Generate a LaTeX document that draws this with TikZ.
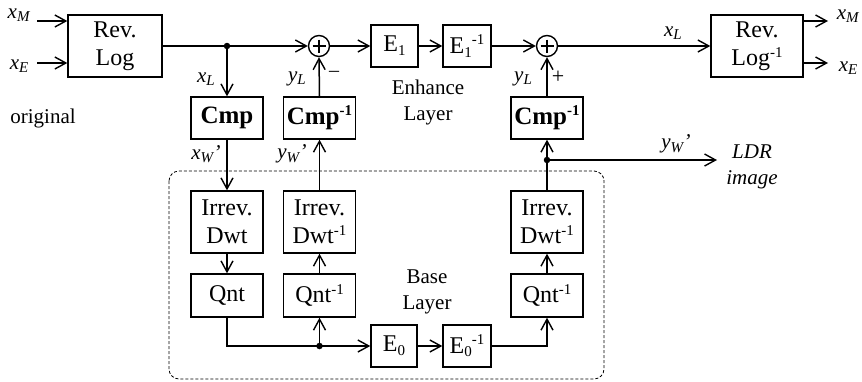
\documentclass[tikz,border=0pt]{standalone}
\usepackage{fontspec}
\setmainfont{Liberation Serif}
\usetikzlibrary{arrows.meta,calc}
\newcommand\bfsz{\fontsize{24}{28}\selectfont}
\newcommand\lfsz{\fontsize{21}{26}\selectfont}
\newcommand\lo[1]{\raisebox{-0.35ex}{\fontsize{15}{15}\selectfont #1}}
\newcommand\hi[1]{\raisebox{0.75ex}{\fontsize{15}{15}\selectfont #1}}
\newcommand\var[2]{\textit{#1}\lo{\textit{#2}}}
\newcommand\prm{\kern-0.5pt\textit{'}}
\begin{document}
\begin{tikzpicture}[x=1pt,y=-1pt,
  blk/.style={draw,line width=1.4pt,inner sep=0pt,align=center,font=\bfsz,minimum width=72pt,minimum height=42pt},
  tall/.style={blk,minimum height=62pt},
  small/.style={blk,minimum width=47pt},
  lbl/.style={inner sep=0pt,align=center,font=\lfsz},
  wire/.style={line width=1.5pt},
  arr/.style={wire,-{Straight Barb[length=11pt,width=12pt,line width=1.4pt]}},
  sumc/.style={draw,circle,line width=1.4pt,minimum size=21pt,inner sep=0pt},
  jdot/.style={circle,fill,inner sep=0pt,minimum size=6.5pt},
  frame/.style={draw,line width=0.8pt,rounded corners=10pt,dash pattern=on 3pt off 2pt}
]
\useasboundingbox (0,0) rectangle (862,381);
% base layer frame
\draw[frame] (169,171) rectangle (604,379);
% blocks
\node[tall,minimum width=94pt] (rl) at (115,46) {Rev.\\Log};
\node[tall,minimum width=92pt] (rli) at (757,46) {Rev.\\Log\hi{-1}};
\node[small] (e1) at (394.5,46) {E\lo{1}};
\node[small,minimum width=48pt] (e1i) at (467,46) {E\lo{1}\hi{-1}};
\node[sumc] (p1) at (319,46) {};
\node[sumc] (p2) at (547,46) {};
\foreach \p in {p1,p2}{
  \draw[line width=1.3pt] ($(\p)+(-6.5,0)$) -- ($(\p)+(6.5,0)$);
  \draw[line width=1.3pt] ($(\p)+(0,-6.5)$) -- ($(\p)+(0,6.5)$);
}
\node[blk] (cmp) at (227,118) {\fontsize{25}{28}\selectfont\textbf{Cmp}};
\node[blk] (cmpi) at (319.5,118) {\fontsize{25}{28}\selectfont\textbf{Cmp\hi{-1}}};
\node[blk] (cmpi2) at (547,118) {\fontsize{25}{28}\selectfont\textbf{Cmp\hi{-1}}};
\node[tall] (dwt) at (227,222) {Irrev.\\Dwt};
\node[tall] (dwti) at (319.5,222) {Irrev.\\Dwt\hi{-1}};
\node[tall] (dwti2) at (547,222) {Irrev.\\Dwt\hi{-1}};
\node[blk,minimum height=43pt] (qnt) at (227,295.5) {Qnt};
\node[blk,minimum height=43pt] (qnti) at (319.5,295.5) {Qnt\hi{-1}};
\node[blk,minimum height=43pt] (qnti2) at (547,295.5) {Qnt\hi{-1}};
\node[small,minimum width=46pt] (e0) at (394,346) {E\lo{0}};
\node[small,minimum width=48pt] (e0i) at (467,346) {E\lo{0}\hi{-1}};
% junctions and free ends
\node[jdot] (j1) at (227,46) {};
\node[jdot] (j3) at (319.5,346) {};
\node[jdot] (j4) at (547,160) {};
\coordinate (inM) at (37,21);
\coordinate (inE) at (37,63);
\coordinate (outM) at (828,21);
\coordinate (outE) at (828,63);
\coordinate (ldr) at (717,160);
% top path
\draw[arr] (inM) -- (inM -| rl.west);
\draw[arr] (inE) -- (inE -| rl.west);
\draw[arr] (rl.east) -- (p1.west);
\draw[arr] (p1.east) -- (e1.west);
\draw[arr] (e1.east) -- (e1i.west);
\draw[arr] (e1i.east) -- (p2.west);
\draw[arr] (p2.east) -- (rli.west);
\draw[arr] (outM -| rli.east) -- (outM);
\draw[arr] (outE -| rli.east) -- (outE);
% left column
\draw[arr] (j1) -- (cmp.north);
\draw[arr] (cmp.south) -- (dwt.north);
\draw[arr] (dwt.south) -- (qnt.north);
\draw[arr] (qnt.south) |- (e0.west);
% middle column
\draw[arr] (j3) -- (qnti.south);
\draw[arr] (qnti.north) -- (dwti.south);
\draw[arr] (dwti.north) -- (cmpi.south);
\draw[arr] (cmpi.north) -- (p1.south);
% bottom chain and right column
\draw[arr] (e0.east) -- (e0i.west);
\draw[arr] (e0i.east) -| (qnti2.south);
\draw[arr] (qnti2.north) -- (dwti2.south);
\draw[arr] (dwti2.north) -- (cmpi2.south);
\draw[arr] (cmpi2.north) -- (p2.south);
\draw[arr] (j4) -- (ldr);
% labels
\node[lbl] (lxM) at (19,15) {\var{x}{M}};
\node[lbl] (lxE) at (19,66) {\var{x}{E}};
\node[lbl] (rxM) at (848,16) {\var{x}{M}};
\node[lbl] (rxE) at (848,68) {\var{x}{E}};
\node[lbl] (orig) at (43,118) {original};
\node[lbl] (lxL) at (206,79) {\var{x}{L}};
\node[lbl] (lyL) at (297,79) {\var{y}{L}};
\node[lbl,font=\fontsize{20}{20}\selectfont] (minus) at (334,74) {–};
\node[lbl] (lxW) at (206,154) {\var{x}{W}\prm};
\node[lbl] (lyW) at (292,154) {\var{y}{W}\prm};
\node[lbl] (enh) at (428,102) {Enhance\\Layer};
\node[lbl] (base) at (427,292) {Base\\Layer};
\node[lbl] (rxL) at (673,33) {\var{x}{L}};
\node[lbl] (ryL) at (523,79) {\var{y}{L}};
\node[lbl,font=\fontsize{22}{22}\selectfont] (plus) at (558,77) {+};
\node[lbl] (ryW) at (676,144) {\var{y}{W}\prm};
\node[lbl,font=\lfsz\itshape] (ldrt) at (752,167) {LDR\\image};
\end{tikzpicture}
\end{document}
